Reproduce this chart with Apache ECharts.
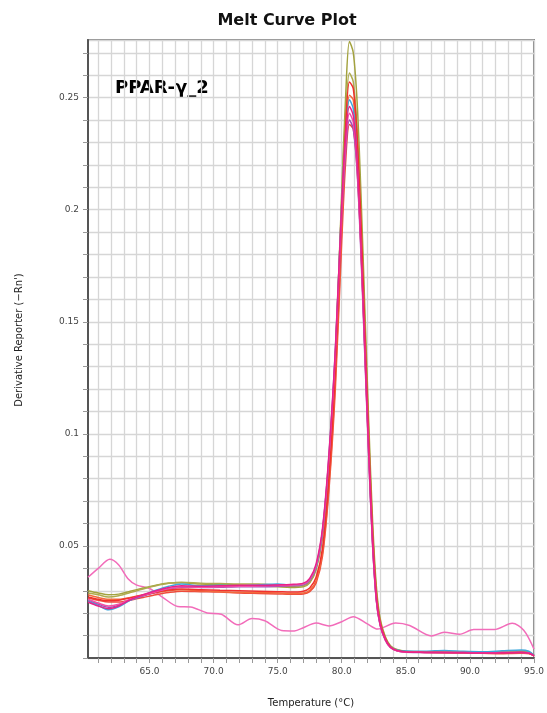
<!DOCTYPE html>
<html>
<head>
<meta charset="utf-8">
<title>Melt Curve Plot</title>
<script src="https://cdn.jsdelivr.net/npm/echarts/dist/echarts.min.js"></script>
<style>
  html, body { margin: 0; padding: 0; background: #fff; }
  #chart { width: 547px; height: 713px; }
</style>
</head>
<body>
<div id="chart"></div>
<script>
// Temperature grid (°C) shared by the sample wells
const temps = [60.2, 61, 61.8, 62.6, 63.5, 64.5, 65.5, 66.5, 67.5, 69, 70.5, 72, 73.5, 75, 76, 77, 77.5, 78,
  78.5, 79, 79.5, 80, 80.3, 80.6, 80.9, 81.2, 81.5, 81.8, 82.1, 82.4, 82.7, 83, 83.4, 83.8, 84.3, 85,
  86.5, 88, 89.5, 91, 92.5, 94, 94.6, 95];

// Derivative reporter (-Rn') per well
const oliveA = [0.0300, 0.0290, 0.0282, 0.0285, 0.0298, 0.0312, 0.0325, 0.0335, 0.0336, 0.0330, 0.0328, 0.0326, 0.0322, 0.0318, 0.0315, 0.0318, 0.0335, 0.0395,
  0.0540, 0.0860, 0.1340, 0.2080, 0.2500, 0.2750, 0.2700, 0.2480, 0.2070, 0.1560, 0.1060, 0.0620, 0.0320, 0.0175, 0.0095, 0.0055, 0.0038, 0.0030,
  0.0028, 0.0027, 0.0028, 0.0026, 0.0028, 0.0030, 0.0026, 0.0012];
const oliveB = [0.0290, 0.0282, 0.0272, 0.0278, 0.0292, 0.0308, 0.0322, 0.0333, 0.0338, 0.0334, 0.0332, 0.0330, 0.0330, 0.0325, 0.0320, 0.0322, 0.0340, 0.0400,
  0.0550, 0.0870, 0.1350, 0.2050, 0.2420, 0.2610, 0.2570, 0.2360, 0.1970, 0.1490, 0.1010, 0.0580, 0.0300, 0.0165, 0.0090, 0.0052, 0.0036, 0.0029,
  0.0027, 0.0028, 0.0027, 0.0025, 0.0027, 0.0031, 0.0027, 0.0012];
const red = [0.0272, 0.0262, 0.0255, 0.0258, 0.0268, 0.0280, 0.0293, 0.0303, 0.0308, 0.0305, 0.0302, 0.0300, 0.0298, 0.0296, 0.0294, 0.0298, 0.0312, 0.0360,
  0.0490, 0.0800, 0.1280, 0.1980, 0.2370, 0.2570, 0.2540, 0.2330, 0.1950, 0.1470, 0.0990, 0.0570, 0.0290, 0.0160, 0.0088, 0.0050, 0.0034, 0.0028,
  0.0026, 0.0025, 0.0024, 0.0022, 0.0020, 0.0024, 0.0022, 0.0010];
const orange = [0.0282, 0.0270, 0.0262, 0.0262, 0.0270, 0.0282, 0.0292, 0.0300, 0.0304, 0.0300, 0.0296, 0.0293, 0.0292, 0.0290, 0.0288, 0.0290, 0.0302, 0.0345,
  0.0470, 0.0770, 0.1240, 0.1920, 0.2310, 0.2510, 0.2490, 0.2290, 0.1910, 0.1440, 0.0970, 0.0560, 0.0285, 0.0158, 0.0087, 0.0050, 0.0034, 0.0028,
  0.0026, 0.0024, 0.0025, 0.0023, 0.0021, 0.0022, 0.0020, 0.0010];
const blue = [0.0255, 0.0235, 0.0215, 0.0228, 0.0258, 0.0280, 0.0302, 0.0320, 0.0330, 0.0322, 0.0325, 0.0322, 0.0326, 0.0330, 0.0325, 0.0330, 0.0350, 0.0410,
  0.0570, 0.0900, 0.1370, 0.2030, 0.2340, 0.2490, 0.2450, 0.2250, 0.1860, 0.1400, 0.0940, 0.0530, 0.0265, 0.0150, 0.0085, 0.0050, 0.0036, 0.0031,
  0.0030, 0.0034, 0.0030, 0.0028, 0.0032, 0.0036, 0.0030, 0.0012];
const magenta = [0.0250, 0.0232, 0.0220, 0.0232, 0.0260, 0.0282, 0.0300, 0.0315, 0.0322, 0.0320, 0.0322, 0.0324, 0.0324, 0.0326, 0.0328, 0.0334, 0.0355, 0.0420,
  0.0580, 0.0910, 0.1380, 0.2030, 0.2320, 0.2460, 0.2420, 0.2220, 0.1840, 0.1380, 0.0920, 0.0520, 0.0260, 0.0148, 0.0082, 0.0048, 0.0033, 0.0027,
  0.0025, 0.0024, 0.0023, 0.0022, 0.0023, 0.0024, 0.0021, 0.0010];
const rose = [0.0262, 0.0245, 0.0232, 0.0240, 0.0262, 0.0280, 0.0296, 0.0310, 0.0318, 0.0316, 0.0318, 0.0320, 0.0321, 0.0323, 0.0325, 0.0330, 0.0350, 0.0412,
  0.0570, 0.0895, 0.1360, 0.2000, 0.2290, 0.2430, 0.2390, 0.2200, 0.1820, 0.1370, 0.0915, 0.0515, 0.0258, 0.0146, 0.0081, 0.0047, 0.0032, 0.0026,
  0.0025, 0.0024, 0.0024, 0.0023, 0.0024, 0.0025, 0.0022, 0.0010];
const purple = [0.0258, 0.0240, 0.0226, 0.0236, 0.0258, 0.0276, 0.0293, 0.0308, 0.0316, 0.0315, 0.0316, 0.0318, 0.0318, 0.0320, 0.0322, 0.0327, 0.0346, 0.0405,
  0.0560, 0.0880, 0.1340, 0.1970, 0.2260, 0.2400, 0.2360, 0.2170, 0.1800, 0.1350, 0.0900, 0.0510, 0.0255, 0.0145, 0.0080, 0.0047, 0.0032, 0.0026,
  0.0025, 0.0025, 0.0024, 0.0023, 0.0024, 0.0026, 0.0023, 0.0010];
const tomato = [0.0268, 0.0258, 0.0250, 0.0250, 0.0258, 0.0270, 0.0282, 0.0292, 0.0298, 0.0296, 0.0294, 0.0290, 0.0288, 0.0286, 0.0284, 0.0286, 0.0296, 0.0335,
  0.0455, 0.0750, 0.1200, 0.1860, 0.2210, 0.2380, 0.2360, 0.2180, 0.1830, 0.1390, 0.0940, 0.0540, 0.0275, 0.0155, 0.0086, 0.0049, 0.0033, 0.0027,
  0.0025, 0.0023, 0.0022, 0.0021, 0.0020, 0.0021, 0.0020, 0.0010];

// No-template control (no melt peak)
const ntcTemps = [60.2, 61, 61.9, 62.6, 63.3, 64, 65, 66, 67.2, 68.2, 69.5, 70.6, 71.9, 73, 74, 75.3, 76.3, 77, 78, 79,
  80, 80.9, 82, 82.8, 84.2, 85.3, 87, 88, 89.2, 90.3, 91.9, 93.3, 94.2, 95];
const ntc = [0.0360, 0.0400, 0.0440, 0.0415, 0.0355, 0.0325, 0.0310, 0.0272, 0.0230, 0.0228, 0.0201, 0.0195, 0.0148, 0.0176, 0.0166, 0.0123, 0.0121, 0.0135, 0.0156, 0.0143,
  0.0162, 0.0184, 0.0152, 0.0129, 0.0156, 0.0145, 0.0098, 0.0115, 0.0106, 0.0127, 0.0127, 0.0155, 0.0124, 0.0040];

// Axis ticks
const degreeTicks = [61, 62, 63, 64, 65, 66, 67, 68, 69, 70, 71, 72, 73, 74, 75, 76, 77, 78, 79, 80,
  81, 82, 83, 84, 85, 86, 87, 88, 89, 90, 91, 92, 93, 94, 95];
const degreeLabels = [65, 70, 75, 80, 85, 90, 95];

const wells = [
  { name: 'NTC', x: ntcTemps, y: ntc, color: '#f26cba' },
  { name: 'A1', x: temps, y: tomato, color: '#ee4b3c' },
  { name: 'A2', x: temps, y: orange, color: '#f26a3c' },
  { name: 'A3', x: temps, y: oliveA, color: '#a3a23e' },
  { name: 'A4', x: temps, y: oliveB, color: '#aeab4e' },
  { name: 'A5', x: temps, y: purple, color: '#a04cb4' },
  { name: 'A6', x: temps, y: blue, color: '#3ea8dc' },
  { name: 'A7', x: temps, y: red, color: '#f0302e' },
  { name: 'A8', x: temps, y: rose, color: '#f052a6' },
  { name: 'A9', x: temps, y: magenta, color: '#e8228a' }
];

const chart = echarts.init(document.getElementById('chart'), null, { renderer: 'canvas' });

const option = {
  animation: false,
  backgroundColor: '#ffffff',
  title: {
    text: 'Melt Curve Plot',
    left: 282,
    top: 8,
    textAlign: 'center',
    textStyle: { fontFamily: 'DejaVu Sans', fontWeight: 'bold', fontSize: 16, color: '#111' }
  },
  graphic: [{
    type: 'text',
    left: 115,
    top: 79,
    style: { text: 'PPAR-γ_2', font: 'bold 18px "DejaVu Sans"', fill: '#000' }
  }],
  grid: {
    left: 88, right: 9, top: 40, bottom: 50,
    show: true, borderColor: '#8a8a8a', borderWidth: 2, backgroundColor: '#fff'
  },
  xAxis: {
    type: 'value',
    min: 60.2, max: 95,
    name: 'Temperature (°C)',
    nameLocation: 'middle',
    nameGap: 40,
    nameTextStyle: { fontFamily: 'DejaVu Sans', fontSize: 10, color: '#222' },
    axisLine: { onZero: false, lineStyle: { color: '#555', width: 2 } },
    axisTick: { show: true, customValues: degreeTicks, length: 5, lineStyle: { color: '#999', width: 1 } },
    axisLabel: {
      customValues: degreeLabels,
      formatter: v => v.toFixed(1),
      fontFamily: 'DejaVu Sans', fontSize: 9, color: '#444', margin: 9
    },
    splitLine: { show: true, lineStyle: { color: '#d6d6d6', width: 1.3 } }
  },
  yAxis: {
    type: 'value',
    min: 0, max: 0.2757, interval: 0.01,
    name: "Derivative Reporter (−Rn')",
    nameLocation: 'middle',
    nameGap: 64,
    nameRotate: 90,
    nameTextStyle: { fontFamily: 'DejaVu Sans', fontSize: 10, color: '#222', padding: [0, 0, 0, 18] },
    axisLine: { show: true, onZero: false, lineStyle: { color: '#555', width: 2 } },
    axisTick: { show: true, length: 5, lineStyle: { color: '#999', width: 1 } },
    axisLabel: {
      showMaxLabel: false,
      formatter: v => {
        const h = Math.round(v * 100);
        return (h > 0 && h % 5 === 0 && Math.abs(v * 100 - h) < 1e-6) ? String(+(h / 100).toFixed(2)) : '';
      },
      fontFamily: 'DejaVu Sans', fontSize: 9, color: '#444', margin: 9
    },
    splitLine: { show: true, lineStyle: { color: '#d6d6d6', width: 1.3 } }
  },
  series: wells.map(w => ({
    name: w.name,
    type: 'line',
    data: w.x.map((t, i) => [t, w.y[i]]),
    showSymbol: false,
    smooth: 0.3,
    clip: true,
    lineStyle: { color: w.color, width: 1.5 },
    itemStyle: { color: w.color }
  }))
};

chart.setOption(option);
</script>
</body>
</html>
